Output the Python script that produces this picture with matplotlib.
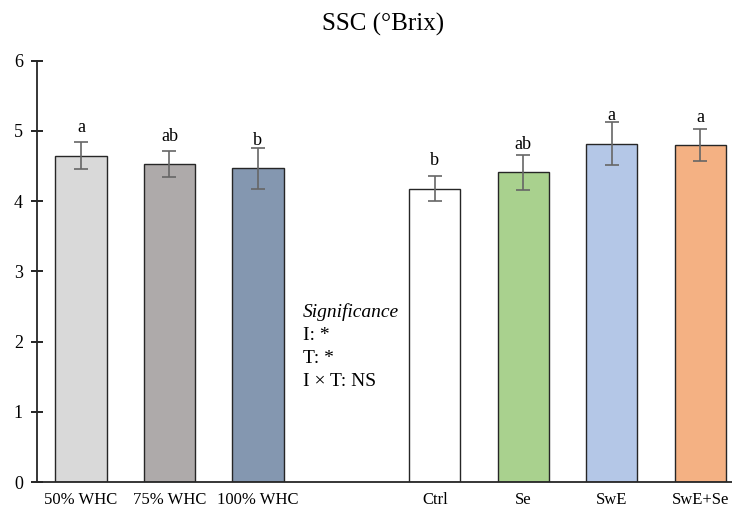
import matplotlib
matplotlib.use("Agg")
import matplotlib.pyplot as plt

plt.rcParams['font.family'] = ['Liberation Serif', 'DejaVu Serif']

# data
categories = ['50% WHC', '75% WHC', '100% WHC', 'Ctrl', 'Se', 'SwE', 'SwE+Se']
positions = [0, 1, 2, 4, 5, 6, 7]
means = [4.65, 4.53, 4.47, 4.18, 4.41, 4.82, 4.80]
errors = [0.19, 0.18, 0.29, 0.18, 0.25, 0.31, 0.23]
letters = ['a', 'ab', 'b', 'b', 'ab', 'a', 'a']
colors = ['#D9D9D9', '#AEAAAA', '#8497B0', '#FFFFFF', '#A9D18E', '#B4C7E7', '#F4B183']
sig_lines = ['I: *', 'T: *', 'I \u00d7 T: NS']

fig = plt.figure(figsize=(7.32, 5.08), dpi=100)
ax = fig.add_axes([36.7 / 732, 25.8 / 508, 1 - 36.7 / 732, (482.2 - 60.7) / 508])

ax.bar(positions, means, width=0.58, color=colors, edgecolor='#262626', linewidth=1.0,
       yerr=errors, error_kw=dict(ecolor='#666666', elinewidth=1.2, capsize=5, capthick=1.2))

for x, m, lab in zip(positions, means, letters):
    ax.text(x, m + 0.33, lab, ha='center', va='baseline', fontsize=13)

ax.text(2.51, 2.354, 'Significance', style='italic', fontsize=14, va='baseline', ha='left')
for i, s in enumerate(sig_lines):
    ax.text(2.51, 2.023 - i * 0.328, s, fontsize=14, va='baseline', ha='left')

ax.set_xlim(-0.5, 7.36)
ax.set_ylim(0, 6)
ax.set_yticks(range(0, 7))
ax.set_xticks(positions)
ax.set_xticklabels(categories, fontsize=12)
ax.tick_params(axis='x', length=0, pad=7)
ax.tick_params(axis='y', direction='inout', length=8, width=1.2, labelsize=13, pad=6)

for side in ['top', 'right']:
    ax.spines[side].set_visible(False)
for side in ['left', 'bottom']:
    ax.spines[side].set_linewidth(1.3)
    ax.spines[side].set_color('#262626')

fig.text(0.523, 0.952, 'SSC (\u00b0Brix)', ha='center', va='center', fontsize=18)

plt.savefig('out.png', dpi=100)
